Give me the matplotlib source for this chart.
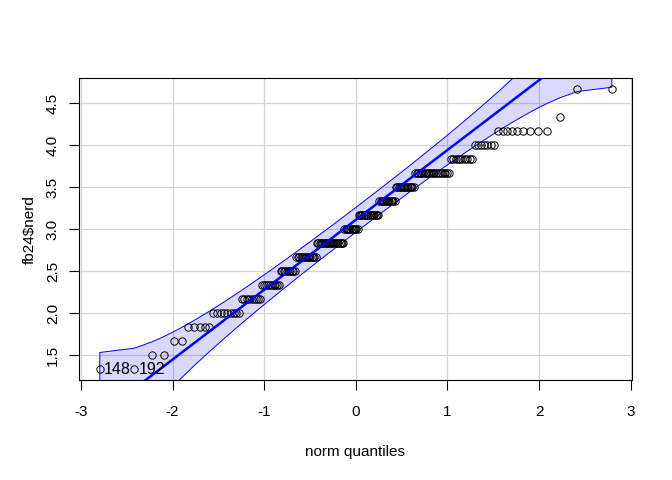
import matplotlib
matplotlib.use("Agg")
import matplotlib.pyplot as plt
import numpy as np
from statistics import NormalDist

plt.rcParams['font.family'] = ['Liberation Sans', 'DejaVu Sans']

# distinct values of fb24$nerd (means of 6 items) and how often each occurs
levels = [4/3, 3/2, 5/3, 11/6, 2.0, 13/6, 7/3, 5/2, 8/3, 17/6, 3.0,
          19/6, 10/3, 7/2, 11/3, 23/6, 4.0, 25/6, 13/3, 14/3]
counts = [2, 2, 2, 5, 9, 9, 10, 10, 15, 22, 12, 17, 13, 14, 21, 10, 7, 9, 1, 2]
point_labels = ["148", "192"]   # ids of the two lowest observations

# reference line
icpt = 3.11
slope = 0.832

y = np.repeat(levels, counts)
n = len(y)
nd = NormalDist()
P = (np.arange(1, n + 1) - 0.5) / n
z = np.array([nd.inv_cdf(p) for p in P])
dens = np.array([nd.pdf(v) for v in z])

# 95% pointwise envelope
zz = nd.inv_cdf(0.975)
SE = (slope / dens) * np.sqrt(P * (1 - P) / n)
fit = icpt + slope * z
upper = fit + zz * SE
lower = fit - zz * SE

fig = plt.figure(figsize=(6.72, 4.8), dpi=100)
ax = fig.add_axes([79.3 / 672, 1 - 380.2 / 480, 553 / 672, 302.2 / 480])

xr = z.max() - z.min()
yr = y.max() - y.min()
ax.set_xlim(z.min() - 0.04 * xr, z.max() + 0.04 * xr)
ax.set_ylim(y.min() - 0.04 * yr, y.max() + 0.04 * yr)

xt = [-3, -2, -1, 0, 1, 2, 3]
yt = [1.5, 2.0, 2.5, 3.0, 3.5, 4.0, 4.5]
for v in xt:
    ax.axvline(v, color="#D3D3D3", lw=0.9, zorder=0)
for v in yt:
    ax.axhline(v, color="#D3D3D3", lw=0.9, zorder=0)

ax.fill(np.concatenate([z, z[::-1]]), np.concatenate([lower, upper[::-1]]),
        facecolor=(0, 0, 1, 0.15), edgecolor="#0000FF", lw=0.7, zorder=1)
ax.plot(z, y, "o", mfc="none", mec="black", ms=5.3, mew=0.7, zorder=2)
xx = np.array(ax.get_xlim())
ax.plot(xx, icpt + slope * xx, color="#0000FF", lw=1.8, zorder=3)

for i, lab in enumerate(point_labels):
    ax.annotate(lab, (z[i], y[i]), xytext=(3, 0), textcoords="offset points",
                ha="left", va="center", fontsize=11.5, zorder=4)

ax.set_xticks(xt)
ax.set_xticklabels([str(v) for v in xt])
ax.set_yticks(yt)
ax.set_yticklabels(["%.1f" % v for v in yt], rotation=90, va="center")
ax.tick_params(direction="out", length=7, width=0.8, labelsize=11)
ax.tick_params(axis="x", pad=11)
ax.tick_params(axis="y", pad=7)
for sp in ax.spines.values():
    sp.set_linewidth(0.8)

fig.text(355 / 672, 1 - 452 / 480, "norm quantiles", ha="center", va="center", fontsize=11)
fig.text(30 / 672, 1 - 230 / 480, "fb24\\$nerd", ha="center", va="center",
         rotation=90, fontsize=11)

fig.savefig("out.png", dpi=100)
